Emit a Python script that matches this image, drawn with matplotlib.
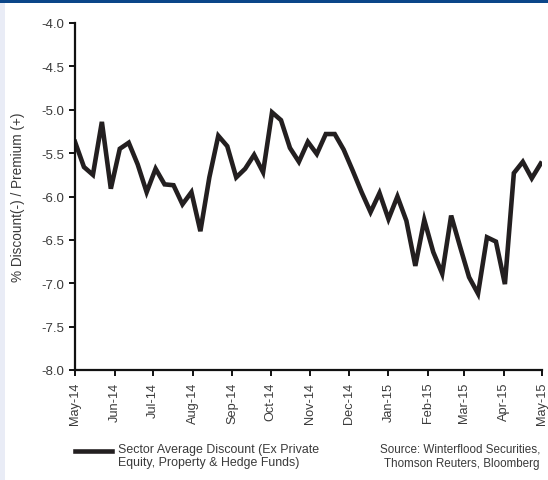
import matplotlib
matplotlib.use("Agg")
import matplotlib.pyplot as plt
import matplotlib.dates as mdates
import matplotlib.patches as mpatches
import pandas as pd

plt.rcParams['font.family'] = ['Liberation Sans', 'DejaVu Sans']
plt.rcParams['axes.unicode_minus'] = False

# weekly observations, May-14 to May-15
start_date = "2014-05-01"
n_weeks = 53
values = [-5.37, -5.66, -5.75, -5.14, -5.91, -5.45, -5.38, -5.63, -5.95, -5.68,
          -5.86, -5.87, -6.09, -5.95, -6.40, -5.78, -5.30, -5.42, -5.78, -5.68,
          -5.52, -5.72, -5.03, -5.12, -5.44, -5.60, -5.37, -5.51, -5.28, -5.28,
          -5.46, -5.70, -5.95, -6.18, -5.96, -6.26, -6.00, -6.28, -6.80, -6.27,
          -6.64, -6.89, -6.22, -6.58, -6.93, -7.12, -6.47, -6.52, -7.01, -5.73,
          -5.60, -5.79, -5.62]
month_ticks = pd.date_range("2014-05-01", "2015-05-01", freq="MS")
y_ticks = [-4.0, -4.5, -5.0, -5.5, -6.0, -6.5, -7.0, -7.5, -8.0]
series_label = "Sector Average Discount (Ex Private\nEquity, Property & Hedge Funds)"
source_text = "Source: Winterflood Securities,\nThomson Reuters, Bloomberg"
y_label = "% Discount(-) / Premium (+)"

dates = pd.date_range(start_date, periods=n_weeks, freq="7D")

W, H = 548, 481
fig = plt.figure(figsize=(W / 100, H / 100), dpi=100)
fig.patch.set_facecolor("white")
# decorative frame
fig.add_artist(mpatches.Rectangle((0, 1 - 4/H), 1, 4/H, transform=fig.transFigure,
                                  facecolor="#0b4689", edgecolor="none", zorder=-5))
fig.add_artist(mpatches.Rectangle((0, 0), 5/W, 1 - 4/H, transform=fig.transFigure,
                                  facecolor="#e9ecf6", edgecolor="none", zorder=-5))

ax = fig.add_axes([75/W, 1 - 371/H, 467/W, 347/H])
ax.set_facecolor("none")
text_color = "#3a3a3a"
ax.plot(dates, values, color="#231f20", lw=3.3, solid_joinstyle="miter")

ax.set_xlim(month_ticks[0], month_ticks[-1])
ax.set_ylim(-8.0, -4.0)
ax.set_yticks(y_ticks)
ax.yaxis.set_major_formatter(matplotlib.ticker.FormatStrFormatter("%.1f"))
ax.set_xticks(month_ticks)
ax.xaxis.set_major_formatter(mdates.DateFormatter("%b-%y"))
for lab in ax.get_xticklabels():
    lab.set_rotation(90)

for s in ["top", "right"]:
    ax.spines[s].set_visible(False)
for s in ["left", "bottom"]:
    ax.spines[s].set_linewidth(1.6)
    ax.spines[s].set_color("#111111")
ax.tick_params(axis="both", direction="out", length=4.5, width=1.4, color="#111111",
               labelsize=9.5, labelcolor=text_color, pad=3)
ax.tick_params(axis="x", labelsize=9.2, pad=4)

fig.text(18/W, 1 - 197/H, y_label, fontsize=9.8, color=text_color, rotation=90,
         ha="center", va="center")

# legend-like footer
fig.add_artist(plt.Line2D([75/W, 112/W], [1 - 452/H, 1 - 452/H],
                          transform=fig.transFigure, color="#231f20", lw=3.3))
fig.text(118/W, 1 - 444/H, series_label, fontsize=8.9, color=text_color,
         va="top", ha="left", linespacing=1.15)
fig.text(540/W, 1 - 444/H, source_text, fontsize=8.4, color=text_color,
         va="top", ha="right", multialignment="right", linespacing=1.2)

fig.savefig("out.png", dpi=100)
